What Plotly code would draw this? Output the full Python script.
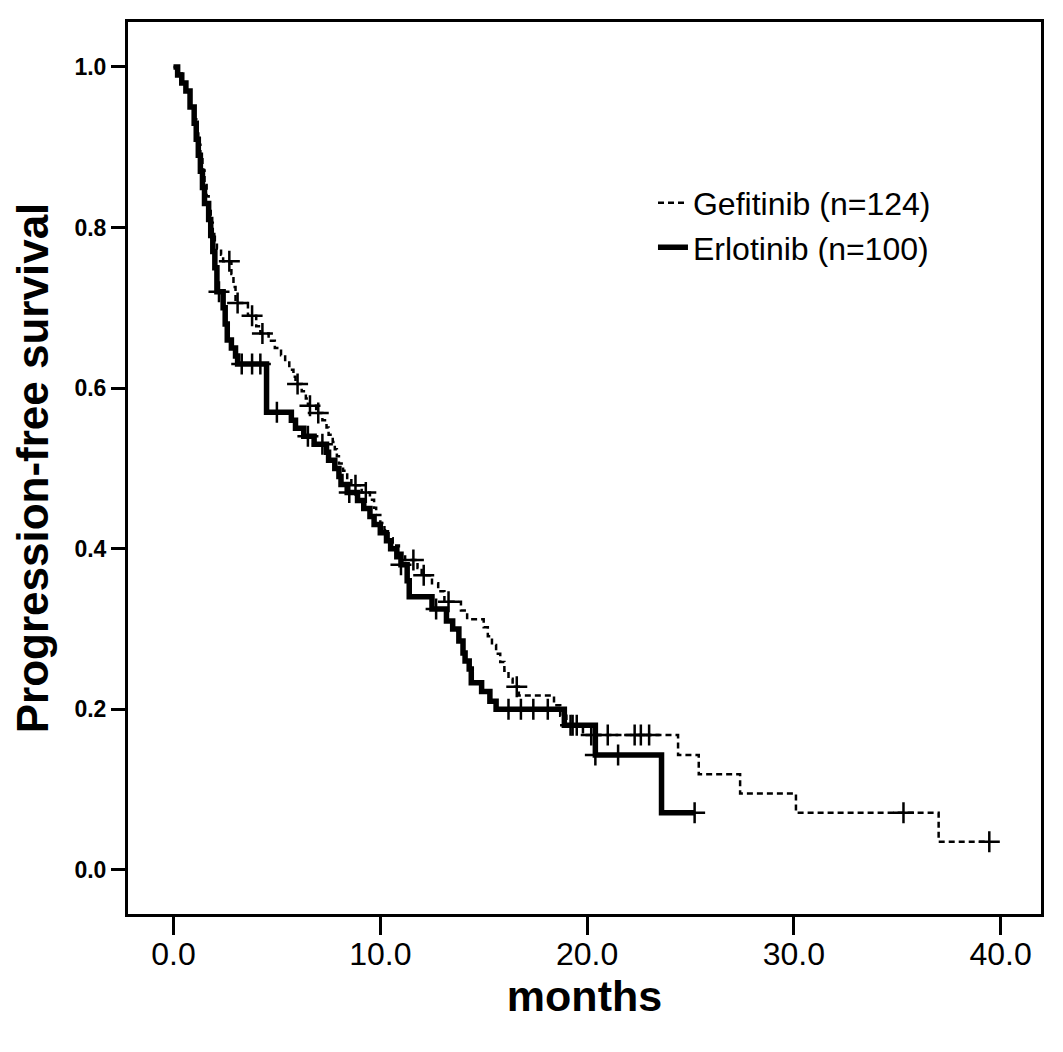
import plotly.graph_objects as go

# Kaplan-Meier step points (time in months, survival)
gef_t = [0.0, 0.2, 0.4, 0.6, 0.8, 1.0, 1.1, 1.2, 1.3, 1.4, 1.5, 1.6, 1.7, 1.8, 1.9, 2.0, 2.1,
         2.3, 2.4, 2.8, 2.9, 3.0, 3.6, 4.0, 4.2, 4.6, 4.9, 5.2, 5.4, 5.6, 5.8, 5.9, 6.2, 6.4,
         6.5, 6.9, 7.2, 7.4, 7.5, 7.7, 7.8, 7.9, 8.0, 8.2, 8.4, 8.6, 9.1, 9.5, 9.7, 9.8, 10.0,
         10.2, 10.4, 10.6, 10.9, 11.2, 11.8, 12.0, 12.5, 12.8, 13.1, 13.9, 14.2, 15.0, 15.2,
         15.4, 15.6, 15.8, 16.0, 16.2, 16.4, 16.7, 18.4, 18.7, 19.0, 19.8, 24.4, 25.4, 27.4,
         30.1, 37.0, 39.45]
gef_s = [1.0, 0.992, 0.976, 0.968, 0.952, 0.935, 0.919, 0.903, 0.887, 0.871, 0.855, 0.839,
         0.823, 0.806, 0.790, 0.782, 0.774, 0.766, 0.758, 0.742, 0.726, 0.706, 0.690, 0.677,
         0.668, 0.659, 0.650, 0.641, 0.632, 0.623, 0.614, 0.605, 0.596, 0.587, 0.578, 0.569,
         0.560, 0.551, 0.542, 0.533, 0.524, 0.515, 0.506, 0.497, 0.488, 0.479, 0.470, 0.461,
         0.451, 0.442, 0.432, 0.423, 0.413, 0.404, 0.395, 0.386, 0.376, 0.367, 0.357, 0.347,
         0.334, 0.323, 0.312, 0.302, 0.291, 0.280, 0.269, 0.259, 0.248, 0.238, 0.228, 0.217,
         0.205, 0.192, 0.180, 0.168, 0.143, 0.119, 0.095, 0.071, 0.035, 0.035]
gef_cens_t = [2.7, 3.1, 3.8, 4.3, 6.0, 6.6, 7.0, 8.8, 9.3, 11.6, 12.1, 13.3, 16.6,
              19.2, 19.5, 20.2, 21.0, 22.3, 22.6, 23.0, 35.3, 39.45]
gef_cens_s = [0.758, 0.706, 0.690, 0.668, 0.605, 0.578, 0.569, 0.479, 0.470, 0.386, 0.367,
              0.334, 0.228, 0.180, 0.180, 0.168, 0.168, 0.168, 0.168, 0.168, 0.071, 0.035]

erl_t = [0.0, 0.2, 0.4, 0.6, 0.8, 1.0, 1.1, 1.2, 1.3, 1.4, 1.5, 1.7, 1.8, 1.9, 2.0, 2.1,
         2.4, 2.5, 2.6, 2.8, 3.0, 3.1, 4.5, 5.7, 5.9, 6.3, 6.8, 7.4, 7.5, 7.8, 8.0, 8.1, 8.4,
         8.9, 9.2, 9.5, 9.7, 10.0, 10.3, 10.5, 10.8, 11.0, 11.3, 11.4, 12.5, 13.2, 13.5, 13.8,
         14.0, 14.1, 14.3, 14.4, 14.9, 15.3, 15.6, 18.9, 20.4, 23.6, 25.2]
erl_s = [1.0, 0.99, 0.98, 0.97, 0.95, 0.93, 0.91, 0.89, 0.87, 0.85, 0.83, 0.81, 0.79, 0.77,
         0.75, 0.72, 0.70, 0.68, 0.66, 0.65, 0.64, 0.63, 0.57, 0.56, 0.55, 0.54, 0.53, 0.52,
         0.51, 0.50, 0.49, 0.48, 0.47, 0.46, 0.45, 0.44, 0.43, 0.42, 0.41, 0.40, 0.39, 0.38,
         0.36, 0.34, 0.325, 0.31, 0.30, 0.285, 0.27, 0.26, 0.25, 0.233, 0.222, 0.21, 0.20,
         0.18, 0.143, 0.071, 0.071]
erl_cens_t = [2.2, 3.3, 3.8, 4.2, 5.0, 6.5, 7.2, 8.5, 11.0, 12.7, 16.2, 16.8, 17.4, 18.1,
              19.3, 20.4, 21.5, 25.2]
erl_cens_s = [0.72, 0.63, 0.63, 0.63, 0.57, 0.54, 0.53, 0.47, 0.38, 0.325, 0.20, 0.20, 0.20,
              0.20, 0.18, 0.143, 0.143, 0.071]

x_ticks = [0, 10, 20, 30, 40]
y_ticks = [0.0, 0.2, 0.4, 0.6, 0.8, 1.0]

FONT = "Liberation Sans, Arial, sans-serif"

fig = go.Figure()

fig.add_trace(go.Scatter(x=gef_t, y=gef_s, mode="lines", line_shape="hv",
                         line=dict(color="black", width=2.5, dash="6px,4px"),
                         name="Gefitinib (n=124)"))
fig.add_trace(go.Scatter(x=erl_t, y=erl_s, mode="lines", line_shape="hv",
                         line=dict(color="black", width=5.5),
                         name="Erlotinib (n=100)"))

# censored marks
fig.add_trace(go.Scatter(x=gef_cens_t, y=gef_cens_s, mode="markers", showlegend=False,
                         marker=dict(symbol="cross-thin", size=15, color="black",
                                     line=dict(color="black", width=2.5))))
fig.add_trace(go.Scatter(x=erl_cens_t, y=erl_cens_s, mode="markers", showlegend=False,
                         marker=dict(symbol="cross-thin", size=15, color="black",
                                     line=dict(color="black", width=2.5))))

# page body has a small default margin, so the margins are trimmed to compensate
fig.update_layout(
    width=1063, height=1052,
    margin=dict(l=120, r=30, t=14, b=146),
    paper_bgcolor="white", plot_bgcolor="white",
    font=dict(family=FONT, color="black"),
    legend=dict(x=0.575, y=0.828, xanchor="left", yanchor="top",
                font=dict(size=32), bgcolor="rgba(0,0,0,0)"),
)

fig.update_xaxes(range=[-2.2, 41.95], tickvals=x_ticks, tickformat=".1f",
                 ticks="outside", ticklen=18, tickwidth=3, tickcolor="black",
                 tickfont=dict(size=32), ticklabelstandoff=-8,
                 showline=True, linewidth=3, linecolor="black", mirror=True,
                 showgrid=False, zeroline=False,
                 title=dict(text="<b>months</b>", font=dict(size=43), standoff=4))
fig.update_yaxes(range=[-0.055, 1.056], tickvals=y_ticks, tickformat=".1f",
                 ticks="outside", ticklen=14, tickwidth=3, tickcolor="black",
                 tickfont=dict(size=23, weight="bold"),
                 showline=True, linewidth=3, linecolor="black", mirror=True,
                 showgrid=False, zeroline=False,
                 title=dict(text="<b>Progression-free survival</b>", font=dict(size=44),
                            standoff=20))

fig.write_html("out.html")
